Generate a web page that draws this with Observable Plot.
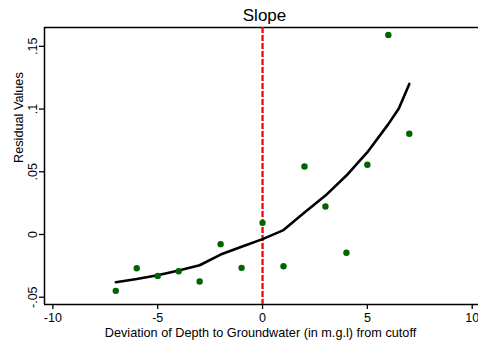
<!DOCTYPE html>
<html>
<head>
<meta charset="utf-8">
<script src="https://cdn.jsdelivr.net/npm/d3@7"></script>
<script src="https://cdn.jsdelivr.net/npm/@observablehq/plot@0.6"></script>
<style>
  html, body { margin: 0; padding: 0; background: #fff; }
  svg { display: block; }
</style>
</head>
<body>
<div id="chart"></div>
<script>
const titleText = "Slope";
const xLabel = "Deviation of Depth to Groundwater (in m.g.l) from cutoff";
const yLabel = "Residual Values";

const xTicks = [-10, -5, 0, 5, 10];
const xTickLabels = ["-10", "-5", "0", "5", "10"];
const yTicks = [-0.05, 0, 0.05, 0.1, 0.15];
const yTickLabels = ["-.05", "0", ".05", ".1", ".15"];

const xDomain = [-10.4, 10.3];
const yDomain = [-0.0558, 0.165];

// residual scatter points
const xResid = [-7, -6, -5, -4, -3, -2, -1, 0, 1, 2, 3, 4, 5, 6, 7];
const yResid = [-0.0449, -0.0269, -0.033, -0.0293, -0.0375, -0.0077, -0.0266, 0.0093, -0.0253, 0.0542, 0.0223, -0.0146, 0.0556, 0.159, 0.0803];

// fitted (smoothed) curve
const xFit = [-7, -6, -5, -4, -3, -2, -1, 0, 1, 2, 3, 4, 5, 6, 6.5, 7];
const yFit = [-0.038, -0.0355, -0.0325, -0.0287, -0.0245, -0.016, -0.0098, -0.0037, 0.0035, 0.0175, 0.031, 0.047, 0.0656, 0.088, 0.1005, 0.120];

const cutoff = [0];

const resid = xResid.map((x, i) => ({x, y: yResid[i]}));
const fit = xFit.map((x, i) => ({x, y: yFit[i]}));

const chart = Plot.plot({
  width: 478,
  height: 343,
  marginLeft: 44,
  marginRight: 0,
  marginTop: 27,
  marginBottom: 39,
  x: {domain: xDomain},
  y: {domain: yDomain},
  style: {fontFamily: "'Liberation Sans', Arial, sans-serif", fontSize: "12px", color: "black", background: "white", overflow: "visible"},
  marks: [
    Plot.axisX({ticks: xTicks, tickFormat: d => xTickLabels[xTicks.indexOf(d)], tickSize: 5, tickPadding: 4, label: null, fontSize: 12.5, strokeWidth: 1.3}),
    Plot.axisY({ticks: yTicks, tickFormat: d => yTickLabels[yTicks.indexOf(d)], tickSize: 5, tickPadding: 3, tickRotate: -90, label: null, fontSize: 12.5, strokeWidth: 1.3}),
    Plot.ruleX([xDomain[0]], {stroke: "black", strokeWidth: 1.5}),
    Plot.ruleY([yDomain[0]], {stroke: "black", strokeWidth: 1.5}),
    Plot.ruleY([yDomain[1]], {stroke: "black", strokeWidth: 1.5}),
    Plot.ruleX(cutoff, {stroke: "#ff0000", strokeWidth: 2.3, strokeDasharray: "6,2"}),
    Plot.line(fit, {x: "x", y: "y", stroke: "black", strokeWidth: 2.6, curve: "linear"}),
    Plot.dot(resid, {x: "x", y: "y", r: 3.2, fill: "#006400", stroke: "none"}),
    Plot.text([titleText], {frameAnchor: "top", lineAnchor: "middle", dy: -12, fontSize: 17, fill: "black", dx: 3}),
    Plot.text([xLabel], {frameAnchor: "bottom", lineAnchor: "middle", dy: 28, fontSize: 12.7, fill: "black", dx: -1}),
    Plot.text([yLabel], {frameAnchor: "left", lineAnchor: "middle", dx: -26, dy: -3, rotate: -90, fontSize: 12.7, fill: "black"})
  ]
});
document.getElementById("chart").appendChild(chart);
</script>
</body>
</html>
